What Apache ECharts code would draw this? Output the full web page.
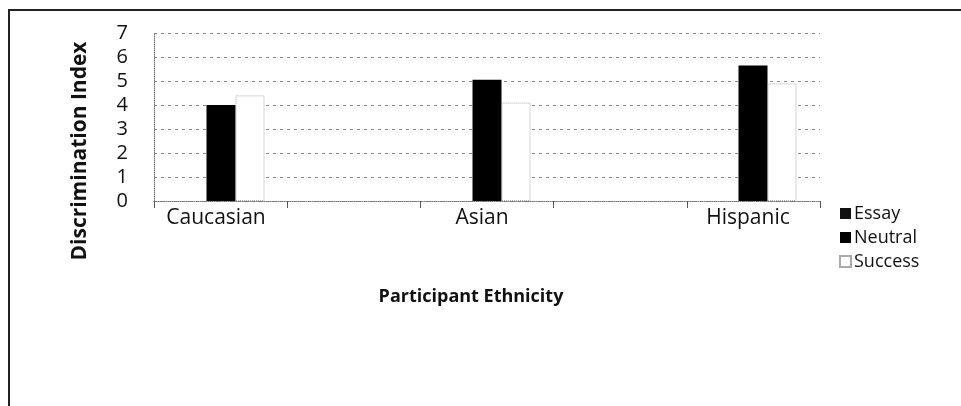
<!DOCTYPE html>
<html>
<head>
<meta charset="utf-8">
<script src="https://cdn.jsdelivr.net/npm/echarts@6/dist/echarts.min.js"></script>
<style>
  html, body { margin: 0; padding: 0; background: #fff; }
  #chart { width: 961px; height: 406px; }
</style>
</head>
<body>
<div id="chart"></div>
<script>
// Discrimination index by participant ethnicity and condition
const categories = ['Caucasian', 'Asian', 'Hispanic'];
const seriesNames = ['Essay', 'Neutral', 'Success'];
const essayValues = [0, 0, 0];
const neutralValues = [4.0, 5.05, 5.65];
const successValues = [4.4, 4.1, 4.9];
const yTicks = [0, 1, 2, 3, 4, 5, 6, 7];

const FONT = '"Open Sans"';
const yMin = yTicks[0];
const yMax = yTicks[yTicks.length - 1];

const chart = echarts.init(document.getElementById('chart'), null, { renderer: 'canvas' });

const option = {
  backgroundColor: '#ffffff',
  animation: false,
  textStyle: { fontFamily: FONT, color: '#000' },
  grid: [
    // bars
    { left: 88, right: 75, top: 33, bottom: 205 },
    // visible value axis, gridlines and category ticks
    { left: 154, right: 141, top: 33, bottom: 205 }
  ],
  xAxis: [
    {
      type: 'category',
      gridIndex: 0,
      data: categories,
      axisLine: { show: false },
      axisTick: { show: false },
      axisLabel: {
        margin: 7, fontSize: 21, fontFamily: FONT, color: '#111',
        padding: [0, 10, 0, 0]
      }
    },
    {
      type: 'value',
      gridIndex: 1,
      min: 0, max: 5, interval: 1,
      axisLine: { show: true, lineStyle: { color: '#777', type: 'dotted', width: 1 } },
      axisTick: { show: true, length: 7, lineStyle: { color: '#555', width: 1 } },
      axisLabel: { show: false },
      splitLine: { show: false }
    }
  ],
  yAxis: [
    {
      type: 'value',
      gridIndex: 0,
      min: yMin, max: yMax, interval: 1,
      show: false
    },
    {
      type: 'value',
      gridIndex: 1,
      min: yMin, max: yMax, interval: 1,
      axisLine: { show: true, lineStyle: { color: '#777', type: 'dotted', width: 1 } },
      axisTick: { show: false },
      axisLabel: {
        margin: 26, fontSize: 20, fontFamily: FONT, color: '#111',
        formatter: v => (yTicks.indexOf(v) >= 0 ? String(v) : '')
      },
      splitLine: { show: true, lineStyle: { color: '#888', type: [3, 4], width: 1 } }
    }
  ],
  legend: {
    orient: 'vertical',
    left: 834,
    top: 199,
    itemWidth: 11,
    itemHeight: 11,
    itemGap: 5,
    icon: 'rect',
    data: seriesNames,
    textStyle: { fontFamily: FONT, fontSize: 18, color: '#111', lineHeight: 19, padding: [0, 0, 0, -2] }
  },
  series: [
    {
      name: seriesNames[0], type: 'bar', xAxisIndex: 0, yAxisIndex: 0,
      data: essayValues, barWidth: 29, barGap: '0%',
      itemStyle: { color: '#111' }
    },
    {
      name: seriesNames[1], type: 'bar', xAxisIndex: 0, yAxisIndex: 0,
      data: neutralValues, barWidth: 29, barGap: '0%',
      itemStyle: { color: '#000' }
    },
    {
      name: seriesNames[2], type: 'bar', xAxisIndex: 0, yAxisIndex: 0,
      data: successValues, barWidth: 29, barGap: '0%',
      itemStyle: { color: '#ffffff', borderColor: '#aaa', borderWidth: 1, borderType: 'dotted' }
    }
  ],
  graphic: [
    {
      type: 'rect',
      shape: { x: 9, y: 10, width: 1000, height: 500 },
      style: { fill: 'none', stroke: '#222', lineWidth: 2 },
      silent: true
    },
    {
      type: 'text',
      x: 80, y: 151,
      rotation: Math.PI / 2,
      style: {
        text: 'Discrimination Index',
        font: 'bold 21px ' + FONT,
        fill: '#111',
        align: 'center',
        verticalAlign: 'middle'
      }
    },
    {
      type: 'text',
      x: 471, y: 297,
      style: {
        text: 'Participant Ethnicity',
        font: 'bold 18px ' + FONT,
        fill: '#111',
        align: 'center',
        verticalAlign: 'middle'
      }
    }
  ]
};

chart.setOption(option);
</script>
</body>
</html>
